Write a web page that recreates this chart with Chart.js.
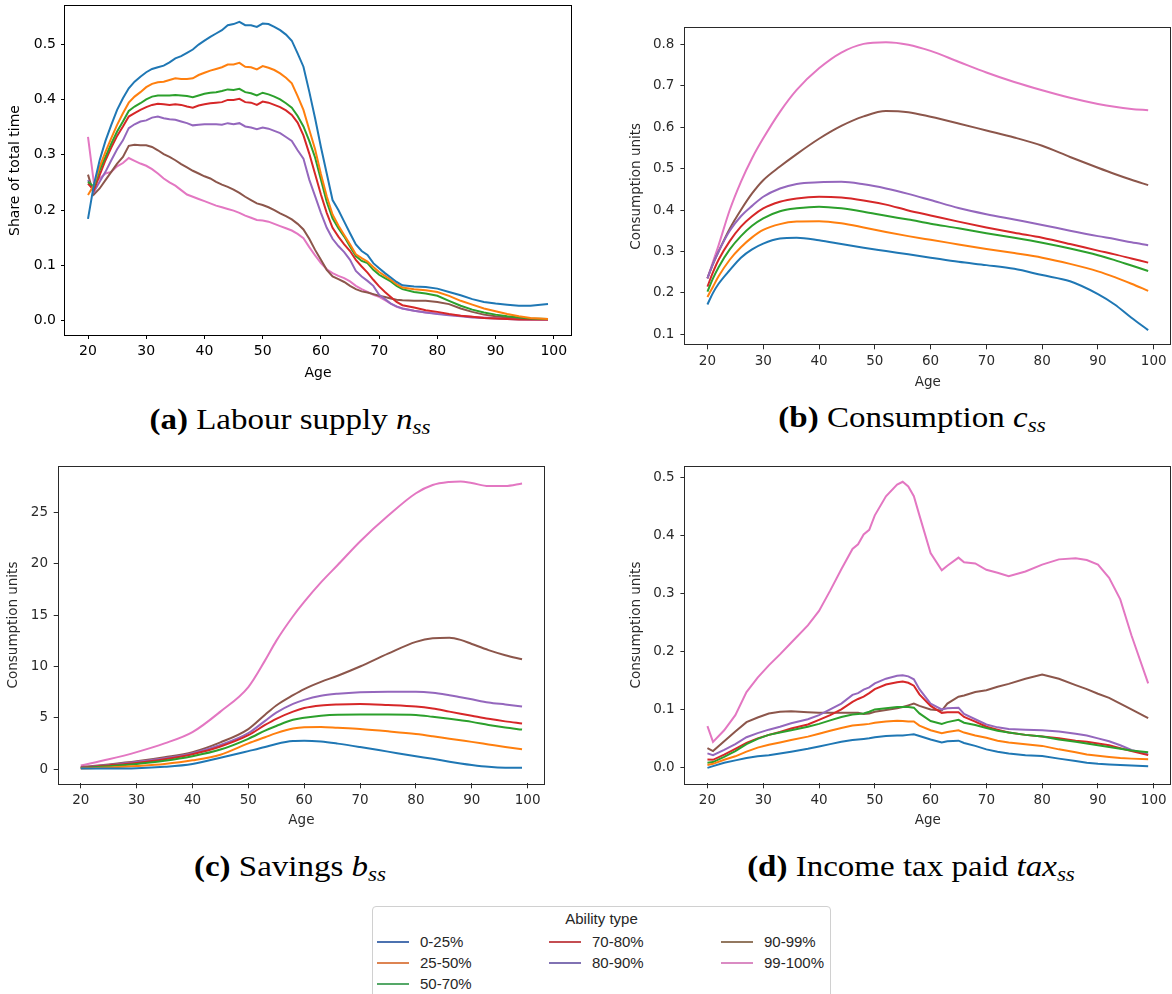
<!DOCTYPE html>
<html>
<head>
<meta charset="utf-8">
<script src="https://cdn.jsdelivr.net/npm/chart.js@4"></script>
<style>
body{margin:0;background:#fff;width:1172px;height:994px;overflow:hidden;position:relative;}
canvas{position:absolute;}
.cap{position:absolute;font-family:"Liberation Serif",serif;font-size:30px;line-height:30px;white-space:nowrap;
  transform:translateX(-50%) scaleX(1.1);color:#000;}
.cap sub{font-size:0.7em;vertical-align:-0.25em;}
#legend{position:absolute;left:372px;top:906px;width:457px;height:110px;border:1px solid #d0d0d0;border-radius:4px;
  font-family:"Liberation Sans",Arial,sans-serif;font-size:15px;color:#262626;}
#legend .t{position:absolute;left:0;width:100%;text-align:center;top:3px;}
#legend .h{position:absolute;width:32px;height:2px;}
#legend .l{position:absolute;line-height:18px;}
</style>
</head>
<body>
<canvas id="ca" width="585" height="385" style="left:0px;top:0px"></canvas>
<canvas id="cb" width="582" height="395" style="left:590px;top:0px"></canvas>
<canvas id="cc" width="585" height="383" style="left:0px;top:450px"></canvas>
<canvas id="cd" width="582" height="383" style="left:590px;top:450px"></canvas>

<div class="cap" style="left:290px;top:404px"><b>(a)</b> Labour supply <i>n</i><sub><i>ss</i></sub></div>
<div class="cap" style="left:912px;top:402px"><b>(b)</b> Consumption <i>c</i><sub><i>ss</i></sub></div>
<div class="cap" style="left:290px;top:851px"><b>(c)</b> Savings <i>b</i><sub><i>ss</i></sub></div>
<div class="cap" style="left:911px;top:851px"><b>(d)</b> Income tax paid <i>tax</i><sub><i>ss</i></sub></div>

<div id="legend"><div class="t">Ability type</div></div>

<script>
// ability groups and colours
const groups = ["0-25%", "25-50%", "50-70%", "70-80%", "80-90%", "90-99%", "99-100%"];
const lineColors = ["#1f77b4", "#ff7f0e", "#2ca02c", "#d62728", "#9467bd", "#8c564b", "#e377c2"];
const legendColors = ["#4c72b0", "#dd8452", "#55a868", "#c44e52", "#8172b3", "#937860", "#da8bc3"];

const xTicks = [20, 30, 40, 50, 60, 70, 80, 90, 100];
const yTicksA = [0, 0.1, 0.2, 0.3, 0.4, 0.5];
const yTicksB = [0.1, 0.2, 0.3, 0.4, 0.5, 0.6, 0.7, 0.8];
const yTicksC = [0, 5, 10, 15, 20, 25];
const yTicksD = [0, 0.1, 0.2, 0.3, 0.4, 0.5];

// (a) labour supply
const agesA = [20,21,22,23,24,25,26,27,28,29,30,31,32,33,34,35,36,37,38,39,40,41,42,43,44,45,46,47,48,49,
  50,51,52,53,54,55,56,57,58,59,60,61,62,63,64,65,66,67,68,69,70,71,72,73,74,76,78,80,82,84,86,88,90,92,94,96,99];
const labour = [
  [.184,.245,.29,.325,.354,.381,.402,.42,.432,.441, .449,.455,.458,.461,.467,.474,.478,.484,.49,.499,
   .506,.513,.519,.525,.534,.536,.540,.534,.534,.531, .537,.536,.531,.525,.517,.506,.483,.459,.414,.366,
   .314,.266,.218, .2,.179,.158,.138,.126,.119,.104,.095,.086,.078,.07,.064,
   .062,.061,.058,.052,.046,.039,.034,.031,.029,.027,.027,.030],
  [.227,.245,.278,.305,.33,.354,.375,.394,.405,.413, .422,.428,.431,.432,.435,.438,.437,.437,.438,.444,
   .448,.452,.455,.458,.463,.463,.466,.459,.458,.454, .46,.457,.453,.447,.439,.429,.406,.381,.345,.31,
   .265,.225,.192, .172,.155,.138,.12,.113,.107,.097,.088,.081,.074,.066,.06,
   .057,.055,.052,.045,.036,.029,.022,.017,.012,.008,.005,.003],
  [.251,.242,.272,.296,.32,.342,.36,.379,.387,.393, .40,.405,.407,.407,.407,.408,.407,.406,.404,.407,
   .41,.412,.413,.415,.418,.417,.419,.413,.411,.407, .412,.409,.405,.40,.393,.385,.37,.351,.325,.295,
   .255,.215,.185, .167,.152,.134,.117,.108,.104,.092,.083,.077,.071,.063,.057,
   .052,.049,.045,.036,.027,.02,.015,.011,.008,.006,.004,.003],
  [.248,.236,.263,.29,.313,.334,.351,.369,.375,.381, .386,.39,.392,.391,.39,.391,.39,.387,.385,.389,
   .391,.393,.394,.395,.399,.399,.401,.395,.394,.39, .396,.394,.39,.386,.38,.372,.358,.335,.302,.265,
   .228,.195,.168, .152,.138,.126,.11,.098,.087,.074,.062,.052,.043,.034,.028,
   .024,.019,.016,.012,.009,.007,.005,.004,.003,.002,.002,.002],
  [.254,.233,.251,.269,.29,.31,.326,.348,.355,.36, .362,.367,.369,.366,.364,.363,.36,.357,.353,.354,
   .355,.355,.355,.354,.357,.355,.357,.351,.349,.346, .349,.347,.343,.339,.332,.325,.308,.293,.255,.225,
   .195,.168,.148, .135,.124,.11,.09,.08,.072,.063,.047,.039,.031,.026,.022,
   .018,.015,.012,.01,.008,.006,.005,.004,.003,.002,.002,.002],
  [.264,.228,.239,.254,.269,.284,.296,.316,.318,.317, .317,.314,.308,.301,.296,.29,.283,.277,.271,.266,
   .261,.257,.251,.246,.242,.237,.231,.224,.218,.212, .209,.205,.2,.194,.189,.183,.175,.165,.148,.128,
   .11,.092,.08, .075,.07,.063,.057,.053,.051,.048,.045,.043,.04,.038,.037,
   .036,.036,.034,.03,.022,.016,.011,.008,.006,.004,.003,.002],
  [.332,.25,.257,.266,.269,.279,.285,.294,.289,.284, .28,.274,.266,.257,.25,.244,.236,.228,.224,.22,
   .216,.212,.208,.205,.202,.199,.195,.19,.186,.182, .181,.179,.175,.171,.167,.163,.157,.149,.133,.118,
   .104,.093,.086, .081,.077,.071,.063,.057,.052,.047,.043,.037,.031,.025,.022,
   .018,.015,.013,.011,.009,.007,.006,.005,.004,.003,.002,.002]
];

// (b) consumption
const agesB = [20,21,22,24,26,28,30,33,36,40,44,48,52,56,60,65,70,75,80,85,90,93,96,99];
const consumption = [
  [.172,.2,.222,.255,.285,.305,.319,.331,.333,.327,.318,.309,.301,.293,.285,.275,.267,.258,.243,.228,.197,.172,.14,.11],
  [.19,.215,.24,.28,.31,.334,.352,.366,.372,.373,.368,.358,.347,.337,.328,.317,.306,.296,.285,.27,.252,.238,.222,.205],
  [.203,.235,.262,.305,.337,.362,.38,.397,.404,.408,.404,.396,.386,.377,.367,.356,.344,.333,.321,.307,.291,.279,.266,.253],
  [.215,.25,.28,.325,.36,.385,.404,.42,.428,.432,.43,.423,.413,.399,.387,.372,.358,.345,.333,.318,.302,.293,.283,.273],
  [.235,.27,.30,.35,.385,.41,.432,.452,.463,.467,.468,.462,.452,.439,.424,.405,.39,.377,.364,.35,.337,.33,.322,.315],
  [.235,.27,.30,.355,.40,.44,.472,.505,.535,.572,.603,.626,.639,.636,.625,.609,.592,.575,.555,.528,.502,.487,.473,.46],
  [.235,.275,.315,.4,.468,.525,.573,.637,.69,.742,.78,.801,.805,.799,.784,.758,.732,.709,.689,.671,.656,.649,.644,.641]
];

// (c) savings
const agesC = [20,25,30,35,40,45,50,53,55,58,60,63,66,70,75,80,83,86,88,90,93,96,99];
const savings = [
  [.05,.05,.08,.22,.5,1.1,1.75,2.15,2.45,2.73,2.76,2.68,2.48,2.15,1.7,1.25,1.0,.72,.55,.4,.22,.13,.12],
  [.05,.15,.3,.5,.85,1.4,2.5,3.1,3.5,3.95,4.08,4.1,4.02,3.9,3.68,3.42,3.2,2.95,2.8,2.65,2.4,2.15,1.92],
  [.1,.28,.5,.8,1.25,1.9,2.95,3.75,4.2,4.8,5.0,5.2,5.3,5.32,5.32,5.28,5.1,4.9,4.75,4.6,4.3,4.05,3.85],
  [.12,.35,.6,.95,1.45,2.2,3.3,4.3,4.9,5.6,5.95,6.2,6.3,6.35,6.25,6.1,5.9,5.6,5.4,5.2,4.9,4.65,4.45],
  [.15,.4,.7,1.05,1.55,2.35,3.5,4.7,5.5,6.35,6.75,7.15,7.35,7.5,7.55,7.55,7.45,7.2,7.0,6.8,6.5,6.3,6.1],
  [.2,.45,.75,1.15,1.65,2.6,3.9,5.3,6.2,7.2,7.8,8.5,9.1,10.0,11.25,12.4,12.75,12.8,12.6,12.2,11.6,11.1,10.7],
  [.35,.95,1.65,2.5,3.6,5.6,8.0,10.6,12.5,14.9,16.3,18.2,19.9,22.2,24.7,26.9,27.7,28.0,28.05,27.9,27.6,27.6,27.85]
];

// (d) income tax paid
const agesD = [20,21,23,25,27,29,31,33,35,38,40,42,44,46,47,48,49,50,52,54,55,56,57,58,60,62,63,
  65,66,68,70,72,74,77,80,83,86,88,90,92,94,96,99];
const incomeTax = [
  [-.001,.002,.008,.012,.016,.019,.021,.024,.027, .032,.036,.04,.044,.047,.048,.049,.05,.052,
   .054,.055,.055,.056,.057,.054,.048,.043,.045, .046,.042,.037,.031,.027,.024,.021,.0195,.015,
   .011,.008,.006,.005,.004,.003,.002],
  [.004,.006,.013,.019,.027,.034,.039,.043,.047, .053,.058,.063,.068,.072,.073,.074,.075,.077,
   .079,.0805,.08,.079,.079,.072,.064,.059,.061, .064,.06,.055,.051,.046,.043,.04,.037,.031,
   .026,.022,.02,.018,.016,.015,.014],
  [.008,.009,.018,.028,.04,.049,.056,.06,.064, .07,.075,.081,.087,.091,.092,.093,.096,.1,
   .102,.104,.104,.104,.103,.093,.08,.075,.078, .082,.077,.073,.068,.063,.06,.056,.053,.048,
   .044,.041,.038,.035,.032,.029,.026],
  [.0135,.013,.022,.032,.042,.05,.056,.061,.067, .074,.082,.09,.1,.113,.118,.122,.128,.135,
   .143,.147,.148,.146,.141,.126,.106,.094,.095, .095,.087,.079,.07,.065,.06,.056,.053,.05,
   .046,.044,.041,.038,.033,.028,.021],
  [.024,.021,.03,.04,.052,.059,.065,.07,.076, .083,.09,.1,.11,.125,.128,.134,.138,.145,
   .153,.158,.159,.157,.152,.135,.11,.1,.102, .103,.092,.083,.074,.069,.066,.065,.064,.062,
   .058,.055,.05,.045,.038,.03,.022],
  [.033,.028,.045,.062,.078,.086,.093,.096,.097, .095,.094,.094,.094,.094,.094,.092,.093,.096,
   .099,.102,.104,.107,.11,.106,.1,.098,.11, .122,.124,.13,.133,.139,.144,.153,.16,.153,
   .142,.135,.127,.12,.11,.1,.085],
  [.071,.044,.064,.09,.13,.155,.176,.195,.215, .245,.27,.305,.342,.377,.385,.402,.41,.435,
   .468,.488,.493,.485,.468,.435,.37,.34,.348, .362,.354,.352,.341,.336,.33,.338,.35,.359,
   .361,.358,.35,.327,.29,.228,.145]
];

// box round the plotting area, like matplotlib spines
const frame = {
    id: "frame",
    afterDatasetsDraw(chart, args, opts){
        const a = chart.chartArea;
        const ctx = chart.ctx;
        ctx.save();
        ctx.strokeStyle = opts.color;
        ctx.lineWidth = 1;
        ctx.strokeRect(Math.round(a.left) - 0.5, Math.round(a.top) - 0.5,
            Math.round(a.right - a.left) + 1, Math.round(a.bottom - a.top) + 1);
        ctx.restore();
    }
};

function draw(id, ages, series, yTicks, c){

    const font = {family: "DejaVu Sans", size: c.fs};

    new Chart(document.getElementById(id), {
        type: "line",
        data: {
            datasets: series.map((s, i) => ({
                label: groups[i],
                data: s.map((v, j) => ({x: ages[j], y: v})),
                borderColor: lineColors[i],
                borderWidth: 2,
                pointRadius: 0,
                fill: false,
                tension: 0,
                cubicInterpolationMode: c.smooth ? "monotone" : "default"
            }))
        },
        options: {
            animation: false,
            responsive: false,
            events: [],
            layout: {padding: {top: c.top, right: c.right, left: 0, bottom: 0}},
            plugins: {
                legend: {display: false},
                tooltip: {enabled: false},
                frame: {color: c.ink}
            },
            scales: {
                x: {
                    type: "linear",
                    min: 16.05,
                    max: 102.95,
                    afterBuildTicks: s => { s.ticks = xTicks.map(v => ({value: v})); },
                    afterFit: s => { s.height = c.xh; s.paddingLeft = 0; s.paddingRight = 0; },
                    border: {display: false},
                    grid: {drawOnChartArea: false, drawTicks: true, tickLength: c.tick, color: c.ink},
                    ticks: {color: c.ink, font: font, padding: c.xpad, maxRotation: 0, autoSkip: false},
                    title: {display: true, text: "Age", color: c.ink, font: font, padding: {top: 0, bottom: c.xtb}}
                },
                y: {
                    type: "linear",
                    min: c.ymin,
                    max: c.ymax,
                    afterBuildTicks: s => { s.ticks = yTicks.map(v => ({value: v})); },
                    afterFit: s => { s.width = c.yw; s.paddingTop = 0; s.paddingBottom = 0; },
                    border: {display: false},
                    grid: {drawOnChartArea: false, drawTicks: true, tickLength: c.tick, color: c.ink},
                    ticks: {color: c.ink, font: font, padding: c.ypad, autoSkip: false,
                        callback: v => c.dec ? v.toFixed(1) : String(v)},
                    title: {display: true, text: c.ylabel, color: c.ink, font: font, padding: {top: c.ytp, bottom: 0}}
                }
            }
        },
        plugins: [frame]
    });
}

draw("ca", agesA, labour, yTicksA, {
    top: 6, right: 14, yw: 65, xh: 50, ymin: -0.0258, ymax: 0.5687,
    fs: 14, tick: 4, xpad: 4, ypad: 5, xtb: 3.6, ytp: 7.4,
    ink: "#000", dec: true, smooth: false, ylabel: "Share of total time"
});

draw("cb", agesB, consumption, yTicksB, {
    top: 28.3, right: 1.8, yw: 95.4, xh: 50.7, ymin: 0.0759, ymax: 0.8386,
    fs: 13.5, tick: 5, xpad: 4.3, ypad: 6, xtb: 4.6, ytp: 38.3,
    ink: "#2a2a2a", dec: true, smooth: true, ylabel: "Consumption units"
});

draw("cc", agesC, savings, yTicksC, {
    top: 16.7, right: 40.9, yw: 58.7, xh: 49.7, ymin: -1.39, ymax: 29.49,
    fs: 13.5, tick: 5, xpad: 3.6, ypad: 5.7, xtb: 4.2, ytp: 5.8,
    ink: "#2a2a2a", dec: false, smooth: true, ylabel: "Consumption units"
});

draw("cd", agesD, incomeTax, yTicksD, {
    top: 16.7, right: 1.8, yw: 95.4, xh: 49.7, ymin: -0.0276, ymax: 0.519,
    fs: 13.5, tick: 5, xpad: 4, ypad: 5.8, xtb: 4.2, ytp: 38.3,
    ink: "#2a2a2a", dec: true, smooth: false, ylabel: "Consumption units"
});

// legend: three columns, filled column by column
const legend = document.getElementById("legend");
const colX = [4, 176, 348];
const rowY = [34.7, 55.7, 77];
const perCol = [3, 2, 2];

let k = 0;
perCol.forEach((n, col) => {
    for(let r = 0; r < n; r++, k++){
        const h = document.createElement("div");
        h.className = "h";
        h.style.left = colX[col] + "px";
        h.style.top = (rowY[r] - 1) + "px";
        h.style.background = legendColors[k];
        legend.appendChild(h);

        const t = document.createElement("div");
        t.className = "l";
        t.style.left = (colX[col] + 43) + "px";
        t.style.top = (rowY[r] - 9) + "px";
        t.textContent = groups[k];
        legend.appendChild(t);
    }
});
</script>
</body>
</html>
